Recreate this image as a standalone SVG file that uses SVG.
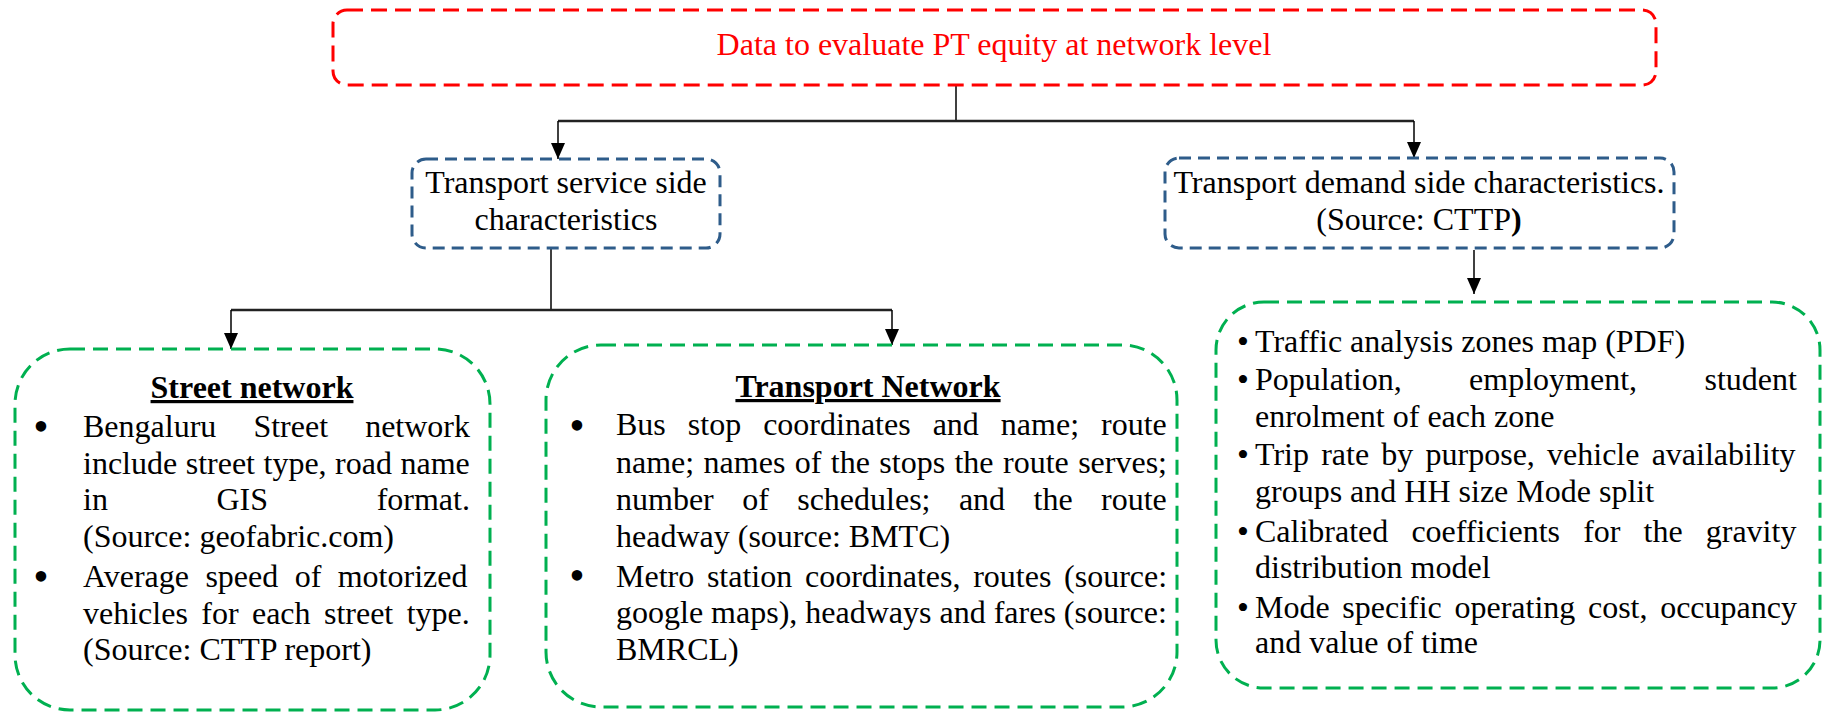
<svg xmlns="http://www.w3.org/2000/svg" width="1826" height="712" viewBox="0 0 1826 712">
<defs>
<marker id="arr" viewBox="0 0 16 14" refX="16" refY="7" markerWidth="16" markerHeight="14" markerUnits="userSpaceOnUse" orient="auto">
<path d="M0,0 L16,7 L0,14 z" fill="#000"/>
</marker>
<style>
text{font-family:"Liberation Serif","Times New Roman",serif;font-size:32px;fill:#000}
.red{fill:none;stroke:#FF0000;stroke-width:3;stroke-dasharray:16 8}
.blue{fill:none;stroke:#2E5C8A;stroke-width:3;stroke-dasharray:12 7}
.green{fill:none;stroke:#00B050;stroke-width:3;stroke-dasharray:15 8}
.title{font-weight:bold;text-decoration:underline;text-anchor:middle}
.mid{text-anchor:middle}
.bul{font-size:44px;text-anchor:middle}
.bul2{font-size:34px;text-anchor:middle}
.c{fill:none;stroke:#000;stroke-width:1.5}
.h{fill:none;stroke:#222;stroke-width:2.5}
</style>
</defs>
<g id="connectors">
<path class="c" d="M956,85 V121"/>
<path class="h" d="M558,121 H1414"/>
<path class="c" d="M558,121 V159" marker-end="url(#arr)"/>
<path class="c" d="M1414,121 V158" marker-end="url(#arr)"/>
<path class="c" d="M551,248 V310"/>
<path class="h" d="M231,310 H892"/>
<path class="c" d="M231,310 V349" marker-end="url(#arr)"/>
<path class="c" d="M892,310 V345" marker-end="url(#arr)"/>
<path class="c" d="M1474,250 V294" marker-end="url(#arr)"/>
</g>
<g id="root">
<rect class="red" x="333" y="10" width="1323" height="75" rx="14"/>
<text class="mid" x="994" y="55" style="fill:#FF0000">Data to evaluate PT equity at network level</text>
</g>
<g id="service">
<rect class="blue" x="412" y="159" width="308" height="89" rx="14"/>
<text class="mid" x="566" y="193">Transport service side</text>
<text class="mid" x="566" y="230">characteristics</text>
</g>
<g id="demand">
<rect class="blue" x="1165" y="158" width="509" height="90" rx="14"/>
<text class="mid" x="1419" y="193">Transport demand side characteristics.</text>
<text class="mid" x="1419" y="230">(Source: CTTP<tspan font-weight="bold">)</tspan></text>
</g>
<g id="street">
<rect class="green" x="15" y="349" width="475" height="361" rx="55"/>
<text class="title" x="252" y="398">Street network</text>
<text class="bul" x="41" y="441">•</text>
<text x="83" y="437" word-spacing="29.1">Bengaluru Street network</text>
<text x="83" y="474" word-spacing="0.5">include street type, road name</text>
<text x="83" y="510" word-spacing="100.6">in GIS format.</text>
<text x="83" y="547">(Source: geofabric.com)</text>
<text class="bul" x="41" y="591">•</text>
<text x="83" y="587" word-spacing="8.4">Average speed of motorized</text>
<text x="83" y="624" word-spacing="5.4">vehicles for each street type.</text>
<text x="83" y="660">(Source: CTTP report)</text>
</g>
<g id="transport">
<rect class="green" x="546" y="345" width="631" height="362" rx="55"/>
<text class="title" x="868" y="397">Transport Network</text>
<text class="bul" x="577" y="440">•</text>
<text x="616" y="435" word-spacing="14">Bus stop coordinates and name; route</text>
<text x="616" y="473" word-spacing="1.4">name; names of the stops the route serves;</text>
<text x="616" y="510" word-spacing="20.4">number of schedules; and the route</text>
<text x="616" y="547">headway (source: BMTC)</text>
<text class="bul" x="577" y="590">•</text>
<text x="616" y="587" word-spacing="4.7">Metro station coordinates, routes (source:</text>
<text x="616" y="623">google maps), headways and fares (source:</text>
<text x="616" y="660">BMRCL)</text>
</g>
<g id="demanddata">
<rect class="green" x="1216" y="302" width="604" height="386" rx="48"/>
<text class="bul2" x="1243" y="353">•</text>
<text x="1255" y="352">Traffic analysis zones map (PDF)</text>
<text class="bul2" x="1243" y="391">•</text>
<text x="1255" y="390" word-spacing="59.4">Population, employment, student</text>
<text x="1255" y="427">enrolment of each zone</text>
<text class="bul2" x="1243" y="466">•</text>
<text x="1255" y="465" word-spacing="4.2">Trip rate by purpose, vehicle availability</text>
<text x="1255" y="502">groups and HH size Mode split</text>
<text class="bul2" x="1243" y="543">•</text>
<text x="1255" y="542" word-spacing="15.1">Calibrated coefficients for the gravity</text>
<text x="1255" y="578">distribution model</text>
<text class="bul2" x="1243" y="619">•</text>
<text x="1255" y="618" word-spacing="4.65">Mode specific operating cost, occupancy</text>
<text x="1255" y="653">and value of time</text>
</g>
</svg>
